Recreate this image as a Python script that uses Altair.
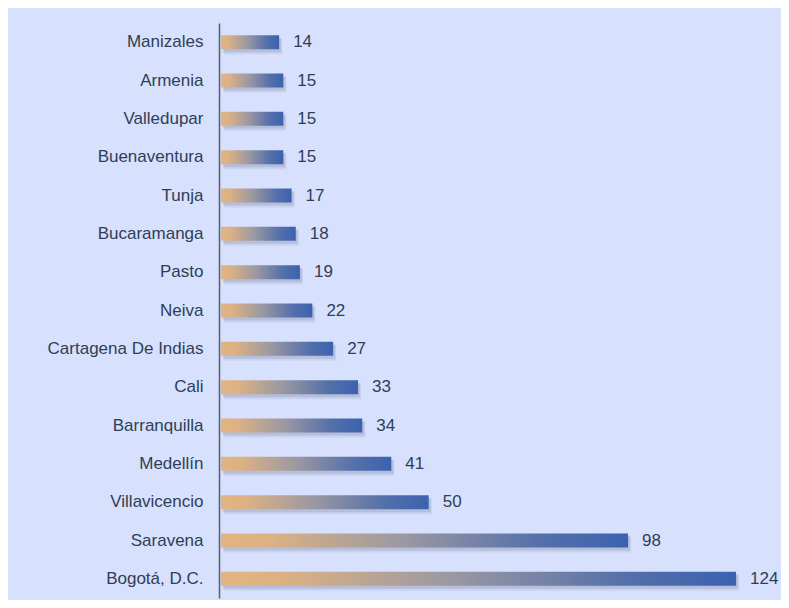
import altair as alt
import pandas as pd

cities = ["Manizales", "Armenia", "Valledupar", "Buenaventura", "Tunja",
          "Bucaramanga", "Pasto", "Neiva", "Cartagena De Indias", "Cali",
          "Barranquilla", "Medellín", "Villavicencio", "Saravena", "Bogotá, D.C."]
values = [14, 15, 15, 15, 17, 18, 19, 22, 27, 33, 34, 41, 50, 98, 124]

df = pd.DataFrame({"city": cities, "value": values})

TEXT = "#2F3E56"
FONT = "Liberation Sans"

y_enc = alt.Y("city:N", sort=cities,
              scale=alt.Scale(paddingInner=0, paddingOuter=0),
              axis=alt.Axis(title=None, ticks=False, labelPadding=16,
                            labelFontSize=17, labelColor=TEXT, labelFont=FONT,
                            domainColor="#5A5E6A", domainWidth=1.5, offset=2,
                            grid=False))
x_enc = alt.X("value:Q", scale=alt.Scale(domain=[0, 130], nice=False),
              axis=None)

base = alt.Chart(df)

shadow1 = base.mark_bar(size=14, color="#8E98B8", opacity=0.35,
                        xOffset=2, x2Offset=3, yOffset=3, y2Offset=3).encode(
    x=x_enc, y=y_enc)
shadow2 = base.mark_bar(size=16, color="#A8B2D0", opacity=0.3,
                        xOffset=3, x2Offset=5, yOffset=4, y2Offset=4).encode(
    x=x_enc, y=y_enc)

grad = alt.Gradient(
    gradient="linear",
    stops=[alt.GradientStop(color="#E2B47F", offset=0),
           alt.GradientStop(color="#DCB184", offset=0.12),
           alt.GradientStop(color="#9A98A2", offset=0.45),
           alt.GradientStop(color="#5570AA", offset=0.78),
           alt.GradientStop(color="#3B62B0", offset=1)],
    x1=0, x2=1, y1=0, y2=0)

bars = base.mark_bar(size=14, fill=grad).encode(x=x_enc, y=y_enc)

labels = base.mark_text(align="left", baseline="middle", dx=14, fontSize=17,
                        font=FONT, color=TEXT).encode(
    x=x_enc, y=y_enc, text="value:Q")

chart = alt.layer(shadow2, shadow1, bars, labels).properties(
    width=540, height=575,
    autosize=alt.AutoSizeParams(type="none"),
    padding={"left": 213, "top": 15, "right": 20, "bottom": 2},
    background="#D7E1FD",
).configure_view(stroke=None)

chart.save("out.html", embed_options={"renderer": "svg", "actions": False})
